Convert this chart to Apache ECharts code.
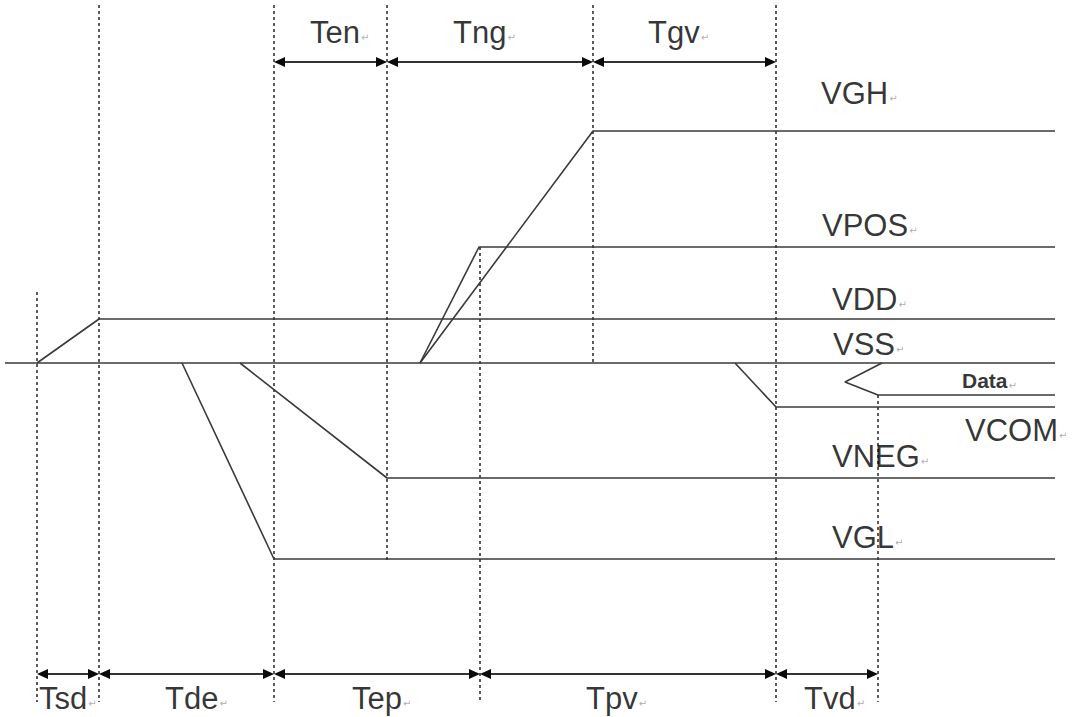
<!DOCTYPE html>
<html>
<head>
<meta charset="utf-8">
<script src="https://cdn.jsdelivr.net/npm/echarts@6/dist/echarts.min.js"></script>
<style>
html,body{margin:0;padding:0;background:#fff;}
#chart{width:1073px;height:717px;}
</style>
</head>
<body>
<div id="chart"></div>
<script>
// ---- Signal waveforms: [time-position, level-position] pairs ----
const sigVSS  = [[5,363],[1055,363]];
const sigVDD  = [[37,363],[99,319],[1055,319]];
const sigVGH  = [[420,363],[593,131],[1055,131]];
const sigVPOS = [[420,363],[479,247],[1055,247]];
const sigVNEG = [[240,363],[387,478],[1055,478]];
const sigVGL  = [[182,363],[274,559],[1055,559]];
const sigVCOM = [[735,363],[776,407],[1055,407]];
const sigData = [[882,363],[845,382],[878,395],[1055,395]];

// ---- Vertical timing markers ----
const markerX      = [37, 99, 274, 387, 480, 593, 776, 878];
const markerTop    = [292, 5, 5, 5, 247, 5, 5, 395];
const markerBottom = [702, 702, 702, 563, 702, 362, 702, 702];

// ---- Interval arrows (top row) ----
const topNames  = ['Ten', 'Tng', 'Tgv'];
const topStart  = [274, 387, 593];
const topEnd    = [387, 593, 776];
const topLabelX = [310, 453, 648];
const topArrowY = 62;
const topLabelY = 32;

// ---- Interval arrows (bottom row) ----
const botNames  = ['Tsd', 'Tde', 'Tep', 'Tpv', 'Tvd'];
const botStart  = [37, 99, 274, 480, 776];
const botEnd    = [99, 274, 480, 776, 878];
const botLabelX = [39, 165, 352, 586, 804];
const botArrowY = 674;
const botLabelY = 698;

// ---- Signal labels ----
const sigNames  = ['VGH', 'VPOS', 'VDD', 'VSS', 'Data', 'VCOM', 'VNEG', 'VGL'];
const sigLabelX = [821, 822, 832, 833, 962, 965, 832, 832];
const sigLabelY = [93, 225, 299, 344, 380, 430, 456, 537];

const chart = echarts.init(document.getElementById('chart'), null, {renderer: 'svg'});

const LINE = '#3a3a3a';
const FONT = 'Liberation Sans, Arial, sans-serif';

function sigSeries(name, data) {
  return {
    name: name, type: 'line', data: data, symbol: 'none', silent: true,
    lineStyle: {color: LINE, width: 1.6}, z: 3, animation: false
  };
}

const markerData = markerX.map((x, i) => ({coords: [[x, markerTop[i]], [x, markerBottom[i]]]}));
const arrowData = [];
topNames.forEach((n, i) => arrowData.push([topStart[i], topEnd[i], topArrowY]));
botNames.forEach((n, i) => arrowData.push([botStart[i], botEnd[i], botArrowY]));

const labelData = [];
topNames.forEach((n, i) => labelData.push({name: n, value: [topLabelX[i], topLabelY], kind: 't'}));
botNames.forEach((n, i) => labelData.push({name: n, value: [botLabelX[i], botLabelY], kind: 't'}));
sigNames.forEach((n, i) => labelData.push({name: n, value: [sigLabelX[i], sigLabelY[i]], kind: n === 'Data' ? 'd' : 't'}));

const HEAD_L = 11, HEAD_W = 5;
function renderArrow(params, api) {
  const a = api.coord([api.value(0), api.value(2)]);
  const b = api.coord([api.value(1), api.value(2)]);
  const y = a[1];
  return {
    type: 'group',
    children: [
      {type: 'line', shape: {x1: a[0] + 2, y1: y, x2: b[0] - 2, y2: y},
       style: {stroke: '#333', lineWidth: 2}},
      {type: 'polygon', shape: {points: [[a[0], y], [a[0] + HEAD_L, y - HEAD_W], [a[0] + HEAD_L, y + HEAD_W]]},
       style: {fill: '#0a0a0a'}},
      {type: 'polygon', shape: {points: [[b[0], y], [b[0] - HEAD_L, y - HEAD_W], [b[0] - HEAD_L, y + HEAD_W]]},
       style: {fill: '#0a0a0a'}}
    ]
  };
}

const option = {
  backgroundColor: '#fff',
  animation: false,
  grid: {left: 0, right: 0, top: 0, bottom: 0},
  xAxis: {type: 'value', min: 0, max: 1073, show: false},
  yAxis: {type: 'value', min: 0, max: 717, inverse: true, show: false},
  series: [
    {
      type: 'lines', coordinateSystem: 'cartesian2d', silent: true, z: 1,
      data: markerData, symbol: 'none',
      lineStyle: {color: '#333', width: 1.6, type: [3, 3], opacity: 1}
    },
    sigSeries('VSS', sigVSS),
    sigSeries('VDD', sigVDD),
    sigSeries('VGH', sigVGH),
    sigSeries('VPOS', sigVPOS),
    sigSeries('VNEG', sigVNEG),
    sigSeries('VGL', sigVGL),
    sigSeries('VCOM', sigVCOM),
    sigSeries('Data', sigData),
    {
      type: 'custom', silent: true, z: 4,
      data: arrowData, renderItem: renderArrow,
      encode: {x: [0, 1], y: 2}
    },
    {
      type: 'scatter', silent: true, z: 5, symbolSize: 0,
      data: labelData,
      label: {
        show: true, position: 'right', distance: 0,
        formatter: function (p) {
          return (p.data.kind === 'd' ? '{d|' : '{t|') + p.name + '}{r|\u21b5}';
        },
        rich: {
          t: {fontFamily: FONT, fontSize: 31, color: '#000'},
          d: {fontFamily: FONT, fontSize: 21, fontWeight: 'bold', color: '#000'},
          r: {fontFamily: 'DejaVu Sans', fontSize: 10, color: '#999', padding: [10, 0, 0, 1]}
        }
      }
    }
  ]
};
chart.setOption(option);
</script>
</body>
</html>
